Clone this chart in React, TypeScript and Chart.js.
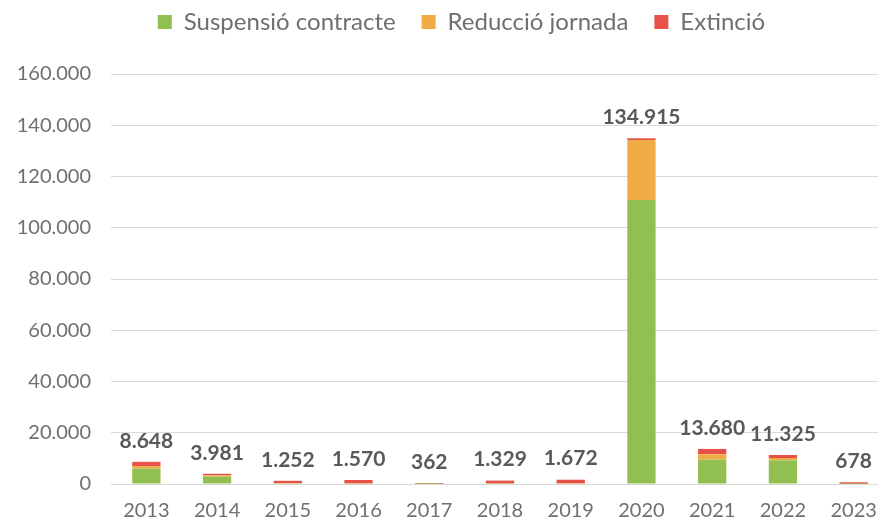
import React, { useEffect, useRef } from "react";
import { Chart, registerables } from "chart.js";

Chart.register(...registerables);

const years = ["2013", "2014", "2015", "2016", "2017", "2018", "2019", "2020", "2021", "2022", "2023"];
const suspensio = [6000, 2850, 150, 120, 22, 99, 122, 110800, 9500, 9250, 28];
const reduccio = [1000, 500, 200, 150, 40, 130, 150, 23400, 2100, 900, 50];
const extincio = [1648, 631, 902, 1300, 300, 1100, 1400, 715, 2080, 1175, 600];
const seriesNames = ["Suspensió contracte", "Reducció jornada", "Extinció"];
const seriesColors = ["#92c050", "#f0ac46", "#e8514a"];

const fmt = (v: number) => String(Math.round(v)).replace(/\B(?=(\d{3})+(?!\d))/g, ".");

const TEXT = "#595959";
const AXIS_TEXT = "#6f6f6f";
const FONT = "Lato";

const totalsPlugin = {
  id: "totals",
  afterLayout(chart: any) {
    const lg = chart.legend;
    if (lg) {
      lg.left += 17;
      lg.right += 17;
      lg.top -= 30;
      lg.bottom -= 30;
    }
  },
  afterDatasetsDraw(chart: any) {
    const ctx = chart.ctx;
    const n = chart.data.labels.length;
    const lastMeta = chart.getDatasetMeta(chart.data.datasets.length - 1);
    ctx.save();
    ctx.font = `bold 21px ${FONT}`;
    ctx.fillStyle = TEXT;
    ctx.textAlign = "center";
    ctx.textBaseline = "middle";
    for (let i = 0; i < n; i++) {
      let total = 0;
      chart.data.datasets.forEach((d: any) => (total += d.data[i]));
      const el = lastMeta.data[i];
      ctx.fillText(fmt(total), el.x, el.y - 21);
    }
    ctx.restore();
  },
};

export default function App() {
  const ref = useRef<HTMLCanvasElement>(null);
  useEffect(() => {
    if (!ref.current) return;
    const chart = new Chart(ref.current, {
      type: "bar",
      data: {
        labels: years,
        datasets: [suspensio, reduccio, extincio].map((d, i) => ({
          label: seriesNames[i],
          data: d,
          backgroundColor: seriesColors[i],
          barPercentage: 0.4,
          categoryPercentage: 1,
        })),
      },
      options: {
        responsive: false,
        animation: false,
        layout: { padding: { left: 0, right: 1, top: 14, bottom: 0 } },
        plugins: {
          legend: {
            position: "top",
            labels: {
              boxWidth: 14,
              boxHeight: 14,
              padding: 26,
              color: AXIS_TEXT,
              font: { family: FONT, size: 24 },
            },
          },
          tooltip: { enabled: false },
        },
        scales: {
          x: {
            stacked: true,
            grid: { display: false },
            border: { display: false },
            afterFit: (s: any) => {
              s.height = 35;
            },
            ticks: { color: AXIS_TEXT, font: { family: FONT, size: 20 }, padding: 7 },
          },
          y: {
            stacked: true,
            min: 0,
            max: 160000,
            afterFit: (s: any) => {
              s.width = 111;
            },
            grid: { color: "#d9d9d9", drawTicks: false },
            border: { display: false },
            ticks: {
              stepSize: 20000,
              color: AXIS_TEXT,
              padding: 20,
              font: { family: FONT, size: 20 },
              callback: (v: any) => fmt(Number(v)),
            },
          },
        },
      },
      plugins: [totalsPlugin],
    });
    return () => chart.destroy();
  }, []);
  return (
    <div style={{ position: "fixed", left: 0, top: 0, width: 878, height: 519, overflow: "hidden", background: "#fff" }}>
      <canvas ref={ref} width={890} height={519} style={{ width: 890, height: 519 }} />
    </div>
  );
}
